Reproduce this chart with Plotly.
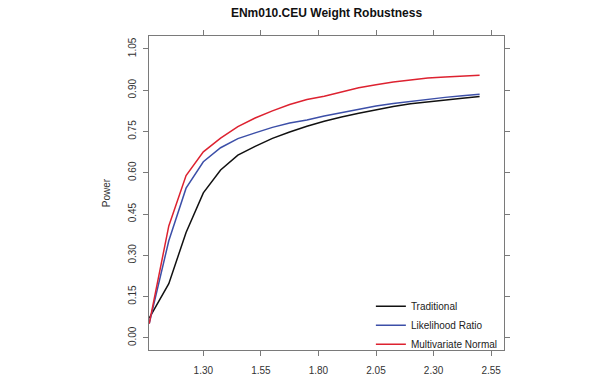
import plotly.graph_objects as go

# Data
x_vals = [1.065, 1.15, 1.225, 1.30, 1.375, 1.45, 1.525, 1.60, 1.675, 1.75,
          1.825, 1.90, 1.975, 2.05, 2.125, 2.20, 2.275, 2.35, 2.425, 2.50]
traditional = [0.072, 0.197, 0.383, 0.527, 0.610, 0.664, 0.696, 0.725, 0.748, 0.769,
               0.787, 0.803, 0.816, 0.829, 0.841, 0.851, 0.858, 0.866, 0.871, 0.877]
likelihood = [0.052, 0.353, 0.544, 0.640, 0.691, 0.724, 0.745, 0.765, 0.781, 0.792,
              0.806, 0.819, 0.832, 0.843, 0.852, 0.860, 0.868, 0.874, 0.880, 0.885]
multinormal = [0.052, 0.407, 0.590, 0.676, 0.726, 0.768, 0.799, 0.825, 0.848, 0.866,
               0.878, 0.893, 0.909, 0.920, 0.930, 0.937, 0.944, 0.948, 0.951, 0.954]

x_ticks = [1.30, 1.55, 1.80, 2.05, 2.30, 2.55]
x_ticklabels = ["1.30", "1.55", "1.80", "2.05", "2.30", "2.55"]
y_ticks = [0.00, 0.15, 0.30, 0.45, 0.60, 0.75, 0.90, 1.05]
y_ticklabels = ["0.00", "0.15", "0.30", "0.45", "0.60", "0.75", "0.90", "1.05"]

series = [
    ("Traditional", traditional, "#111111"),
    ("Likelihood Ratio", likelihood, "#3c4fa8"),
    ("Multivariate Normal", multinormal, "#dd2230"),
]

fig = go.Figure()
for name, vals, color in series:
    fig.add_trace(go.Scatter(x=x_vals, y=vals, mode="lines", name=name,
                             line=dict(color=color, width=1.5)))

font_family = "Liberation Sans, Arial, sans-serif"
axis_color = "#7a7a7a"

fig.update_layout(
    width=602, height=388,
    margin=dict(l=149, r=98, t=36, b=34),
    paper_bgcolor="white", plot_bgcolor="white",
    font=dict(family=font_family, size=10, color="#333333"),
    title=dict(text="<b>ENm010.CEU Weight Robustness</b>", x=(149 + 504) / 2 / 602,
               xanchor="center", y=1 - 13 / 388, yanchor="middle",
               font=dict(size=12, color="#111111")),
    showlegend=True,
    legend=dict(x=0.625, xanchor="left", y=-0.028, yanchor="bottom",
                bgcolor="rgba(0,0,0,0)", font=dict(size=10, color="#222222"),
                tracegroupgap=0),
)

fig.update_xaxes(
    range=[1.064, 2.606], tickvals=x_ticks, ticktext=x_ticklabels,
    showgrid=False, zeroline=False, showline=True, linecolor=axis_color, linewidth=1,
    mirror="ticks", ticks="outside", ticklen=5, tickcolor=axis_color,
    ticklabelstandoff=6,
)
fig.update_yaxes(
    range=[-0.044, 1.097], tickvals=y_ticks, ticktext=y_ticklabels,
    showgrid=False, zeroline=False, showline=True, linecolor=axis_color, linewidth=1,
    mirror="ticks", ticks="outside", ticklen=5, tickcolor=axis_color,
    tickangle=-90, ticklabelstandoff=3,
    title=dict(text="Power", standoff=14, font=dict(size=10, color="#333333")),
)

fig.write_html("out.html", config={"displayModeBar": False},
               post_script="document.body.style.margin='0px';")
